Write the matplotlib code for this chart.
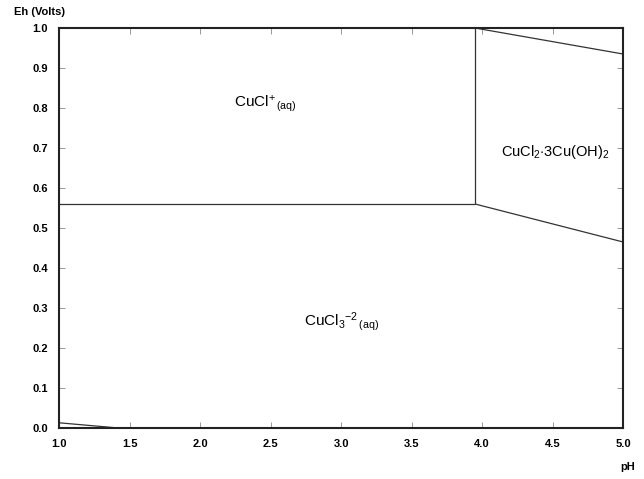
import matplotlib
matplotlib.use("Agg")
import matplotlib.pyplot as plt
import numpy as np

plt.rcParams['font.family'] = ['Liberation Sans', 'DejaVu Sans']
plt.rcParams['mathtext.fontset'] = 'custom'
plt.rcParams['mathtext.rm'] = 'Liberation Sans'
plt.rcParams['mathtext.it'] = 'Liberation Sans:italic'
plt.rcParams['mathtext.bf'] = 'Liberation Sans:bold'

# Boundary lines (pH, Eh)
b_horiz_x = [1.0, 3.95]
b_horiz_y = [0.56, 0.56]
b_vert_x = [3.95, 3.95]
b_vert_y = [0.56, 1.0]
b_top_x = [3.95, 5.0]
b_top_y = [1.0, 0.935]
b_low_x = [3.95, 5.0]
b_low_y = [0.56, 0.465]
b_bot_x = [1.0, 1.42]
b_bot_y = [0.013, 0.0]

xticks = [1.0, 1.5, 2.0, 2.5, 3.0, 3.5, 4.0, 4.5, 5.0]
yticks = [0.0, 0.1, 0.2, 0.3, 0.4, 0.5, 0.6, 0.7, 0.8, 0.9, 1.0]

fig = plt.figure(figsize=(6.44, 4.79), dpi=100)
ax = fig.add_axes([0.0916, 0.1065, 0.8760, 0.8350])

lc = '#333333'
for xs, ys in [(b_horiz_x, b_horiz_y), (b_vert_x, b_vert_y), (b_top_x, b_top_y),
               (b_low_x, b_low_y), (b_bot_x, b_bot_y)]:
    ax.plot(xs, ys, color=lc, lw=0.9, solid_capstyle='butt')

ax.set_xlim(1.0, 5.0)
ax.set_ylim(0.0, 1.0)
ax.set_xticks(xticks)
ax.set_yticks(yticks)
ax.set_xticklabels([f"{v:.1f}" for v in xticks], fontsize=8, fontweight='bold')
ax.set_yticklabels([f"{v:.1f}" for v in yticks], fontsize=8, fontweight='bold')
ax.tick_params(direction='in', length=4, width=0.6, color='#888888',
               top=True, right=True, pad=8)
for s in ax.spines.values():
    s.set_linewidth(1.5)
    s.set_color('#222222')

ax.text(2.46, 0.81, r'CuCl$^{+}$$_{\,\rm (aq)}$', fontsize=11, ha='center', va='center')
ax.text(3.0, 0.265, r'CuCl$_3$$^{-2}$$_{\,\rm (aq)}$', fontsize=11, ha='center', va='center')
ax.text(4.52, 0.69, r'CuCl$_2$$\cdot$3Cu(OH)$_2$', fontsize=10.5, ha='center', va='center')

fig.text(0.022, 0.975, 'Eh (Volts)', fontsize=8, fontweight='bold', ha='left', va='center')
fig.text(0.975, 0.025, 'pH', fontsize=8, fontweight='bold', ha='center', va='center')

fig.savefig('out.png', dpi=100)
